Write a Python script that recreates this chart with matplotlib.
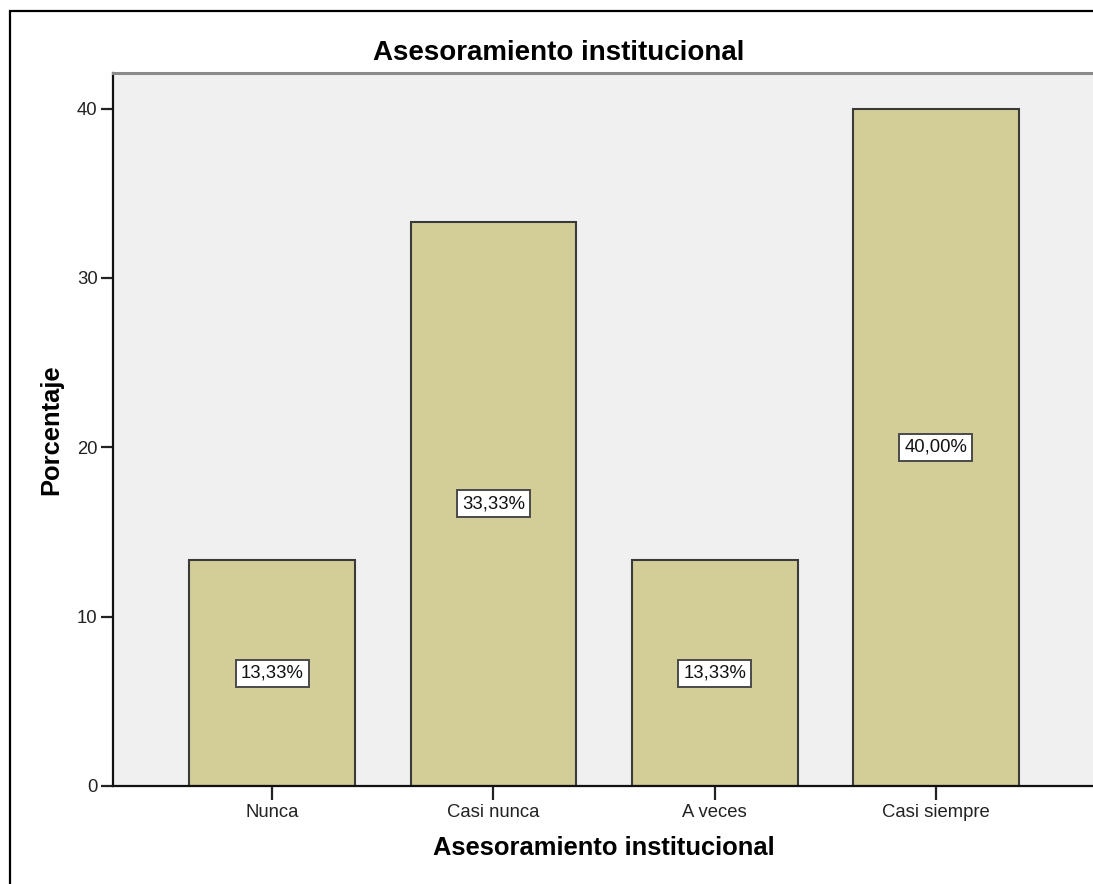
import matplotlib
matplotlib.use('Agg')
import matplotlib.pyplot as plt
from matplotlib.patches import Rectangle

# data
categorias = ['Nunca', 'Casi nunca', 'A veces', 'Casi siempre']
porcentajes = [13.33, 33.33, 13.33, 40.00]
etiquetas = ['13,33%', '33,33%', '13,33%', '40,00%']
yticks = [0, 10, 20, 30, 40]

plt.rcParams['font.family'] = ['Liberation Sans', 'DejaVu Sans']

W, H = 1093, 884
fig = plt.figure(figsize=(W / 100, H / 100), dpi=100)
fig.patch.set_facecolor('white')

# outer frame (right / bottom edges fall off the picture)
fig.patches.append(Rectangle((10 / W, -0.05), 1.1, 1 - 11 / H + 0.05,
                             transform=fig.transFigure, fill=False,
                             edgecolor='black', linewidth=1.6))

ax = fig.add_axes([113 / W, 1 - 786 / H, 1 - 113 / W + 0.002, (786 - 73) / H])
ax.set_facecolor('#f0f0f0')

x = range(len(categorias))
ax.bar(x, porcentajes, width=0.75, color='#d3ce98', edgecolor='#3a3a3a',
       linewidth=1.5, zorder=2)

for i, (v, t) in enumerate(zip(porcentajes, etiquetas)):
    ax.text(i, v / 2, t, ha='center', va='center', fontsize=13.3,
            color='#111111', zorder=3,
            bbox=dict(boxstyle='square,pad=0.27', facecolor='white',
                      edgecolor='#4a4a4a', linewidth=1.4))

ax.set_xlim(-0.72, 3.72)
ax.set_ylim(0, 42.1)
ax.set_xticks(list(x))
ax.set_xticklabels(categorias)
ax.set_yticks(yticks)

ax.tick_params(axis='x', length=10, width=1.6, color='#222222',
               labelsize=13.3, labelcolor='#222222', pad=3)
ax.tick_params(axis='y', length=9, width=1.6, color='#222222',
               labelsize=13.3, labelcolor='#222222', pad=2)

ax.spines['left'].set_linewidth(1.6)
ax.spines['left'].set_color('#111111')
ax.spines['bottom'].set_linewidth(1.6)
ax.spines['bottom'].set_color('#111111')
ax.spines['top'].set_linewidth(2.2)
ax.spines['top'].set_color('#8a8a8a')
ax.spines['right'].set_visible(False)

ax.set_xlabel('Asesoramiento institucional', fontsize=18.4,
              fontweight='bold', labelpad=11)
ax.set_ylabel('Porcentaje', fontsize=18.4, fontweight='bold', labelpad=10)

fig.text(559 / W, 1 - 53 / H, 'Asesoramiento institucional', ha='center',
         va='center', fontsize=20, fontweight='bold')

fig.savefig('out.png', dpi=100)
